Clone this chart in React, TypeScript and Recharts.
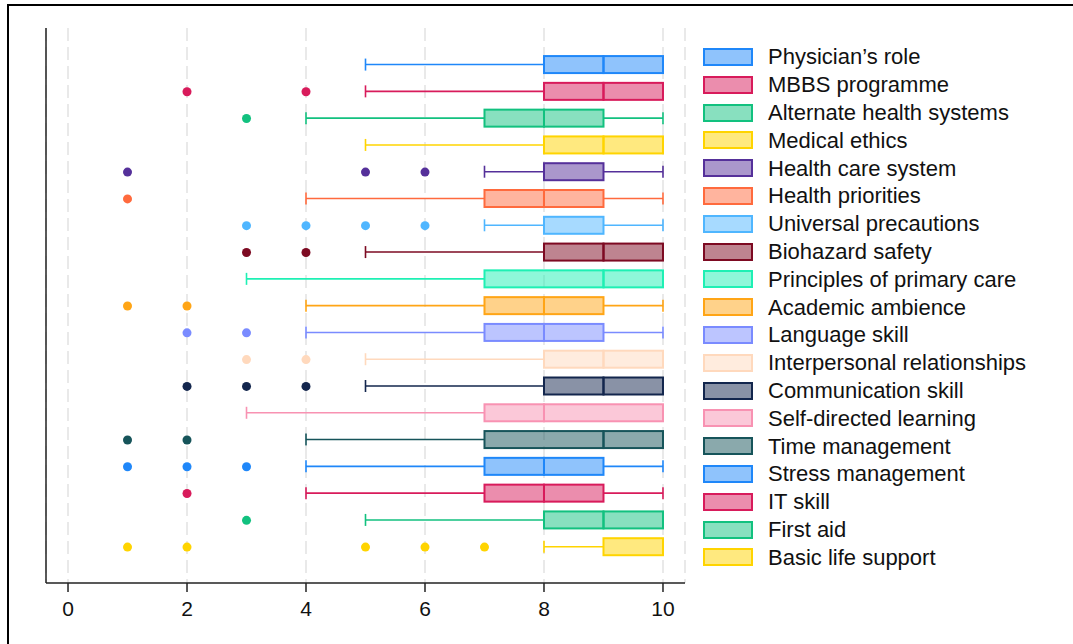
import React from 'react';
import { ComposedChart, Bar, Scatter, XAxis, YAxis, CartesianGrid, ReferenceLine } from 'recharts';

const categories = [
  'Physician’s role',
  'MBBS programme',
  'Alternate health systems',
  'Medical ethics',
  'Health care system',
  'Health priorities',
  'Universal precautions',
  'Biohazard safety',
  'Principles of primary care',
  'Academic ambience',
  'Language skill',
  'Interpersonal relationships',
  'Communication skill',
  'Self-directed learning',
  'Time management',
  'Stress management',
  'IT skill',
  'First aid',
  'Basic life support',
];

const whiskerLow = [5, 5, 4, 5, 7, 4, 7, 5, 3, 4, 4, 5, 5, 3, 4, 4, 4, 5, 8];
const q1 = [8, 8, 7, 8, 8, 7, 8, 8, 7, 7, 7, 8, 8, 7, 7, 7, 7, 8, 9];
const median = [9, 9, 8, 9, 8, 8, 8, 9, 9, 8, 8, 9, 9, 8, 9, 8, 8, 9, 9];
const q3 = [10, 10, 9, 10, 9, 9, 9, 10, 10, 9, 9, 10, 10, 10, 10, 9, 9, 10, 10];
const whiskerHigh = [10, 10, 10, 10, 10, 10, 10, 10, 10, 10, 10, 10, 10, 10, 10, 10, 10, 10, 10];
const outliers: number[][] = [
  [], [2, 4], [3], [], [1, 5, 6], [1], [3, 4, 5, 6], [3, 4], [], [1, 2],
  [2, 3], [3, 4], [2, 3, 4], [], [1, 2], [1, 2, 3], [2], [3], [1, 2, 5, 6, 7],
];
const xTicks = [0, 2, 4, 6, 8, 10];
const X_MIN = -0.37;
const X_MAX = 10.37;

const COLORS = [
  '#1f87f9', '#d81b5b', '#12c17f', '#ffd400', '#55309a', '#ff6a3d', '#4fb6ff',
  '#7d0a22', '#1ef0b4', '#ffa516', '#7a8bff', '#ffd9bd', '#13264d', '#f892b2',
  '#16545a', '#1f87f9', '#d81b5b', '#12c17f', '#ffd400',
];

const rows = categories.map((name, i) => ({
  idx: i,
  name,
  base: whiskerLow[i],
  w1: q1[i] - whiskerLow[i],
  b1: median[i] - q1[i],
  b2: q3[i] - median[i],
  w2: whiskerHigh[i] - q3[i],
}));

const outlierPoints = outliers.flatMap((vals, i) => vals.map((v) => ({ v, idx: i })));

const EmptyShape = () => <g />;

const BoxShape = (props: any) => {
  const { x, y, width, height, index } = props;
  const c = COLORS[index];
  return (
    <rect
      x={x}
      y={y + 0.5}
      width={Math.max(width || 0, 0)}
      height={height - 1}
      fill={c}
      fillOpacity={0.5}
      stroke={c}
      strokeWidth={2}
    />
  );
};

const makeWhisker = (capAtStart: boolean) => (props: any) => {
  const { x, y, width, height, index } = props;
  if (!width || width <= 0) return <g />;
  const c = COLORS[index];
  const cy = y + height / 2;
  const capX = capAtStart ? x : x + width;
  return (
    <g>
      <line x1={x} x2={x + width} y1={cy} y2={cy} stroke={c} strokeWidth={1.6} />
      <line x1={capX} x2={capX} y1={cy - 6} y2={cy + 6} stroke={c} strokeWidth={1.6} />
    </g>
  );
};

const WhiskerLow = makeWhisker(true);
const WhiskerHigh = makeWhisker(false);

const OutlierDot = (props: any) => {
  const { cx, cy, payload } = props;
  return <circle cx={cx} cy={cy} r={4.5} fill={COLORS[payload.idx]} />;
};

const FONT = '"Liberation Sans", Arial, Helvetica, sans-serif';

export default function App() {
  return (
    <div style={{ position: 'fixed', left: 0, top: 0, width: 1073, height: 644, overflow: 'hidden', background: '#fff', fontFamily: FONT }}>
      <div
        style={{
          position: 'absolute',
          left: 7,
          top: 4,
          width: 1066,
          height: 640,
          borderTop: '2px solid #000',
          borderLeft: '2px solid #000',
          boxSizing: 'border-box',
        }}
      />
      <div style={{ position: 'absolute', left: 0, top: 0 }}>
        <ComposedChart
          width={700}
          height={644}
          data={rows}
          layout="vertical"
          margin={{ top: 28, left: 46, right: 15, bottom: 31 }}
        >
          <CartesianGrid vertical horizontal={false} stroke="#e9e9e9" strokeWidth={2} strokeDasharray="13 6" />
          <XAxis
            type="number"
            domain={[X_MIN, X_MAX]}
            allowDataOverflow
            ticks={xTicks}
            height={30}
            tickSize={9}
            tickMargin={9}
            axisLine={{ stroke: '#222', strokeWidth: 1.5 }}
            tickLine={{ stroke: '#222', strokeWidth: 1.5 }}
            tick={{ fill: '#111', fontSize: 21, fontFamily: FONT }}
          />
          <YAxis
            type="number"
            dataKey="idx"
            domain={[-1.38, 19.34]}
            allowDataOverflow
            hide
            width={0}
          />
          <ReferenceLine x={X_MIN} stroke="#222" strokeWidth={1.5} ifOverflow="visible" />
          <Bar dataKey="base" stackId="s" barSize={18} shape={EmptyShape} isAnimationActive={false} />
          <Bar dataKey="w1" stackId="s" barSize={18} shape={WhiskerLow} isAnimationActive={false} />
          <Bar dataKey="b1" stackId="s" barSize={18} shape={BoxShape} isAnimationActive={false} />
          <Bar dataKey="b2" stackId="s" barSize={18} shape={BoxShape} isAnimationActive={false} />
          <Bar dataKey="w2" stackId="s" barSize={18} shape={WhiskerHigh} isAnimationActive={false} />
          <Scatter data={outlierPoints} dataKey="v" shape={OutlierDot} isAnimationActive={false} />
        </ComposedChart>
      </div>
      <div style={{ position: 'absolute', left: 703, top: 57 - 13.9 }}>
        {categories.map((name, i) => (
          <div key={name} style={{ height: 27.8, display: 'flex', alignItems: 'center' }}>
            <div
              style={{
                width: 50,
                height: 18,
                flexShrink: 0,
                boxSizing: 'border-box',
                border: `2px solid ${COLORS[i]}`,
                background: COLORS[i] + '80',
              }}
            />
            <span style={{ marginLeft: 15, fontSize: 22, color: '#111', whiteSpace: 'nowrap', lineHeight: '25px' }}>{name}</span>
          </div>
        ))}
      </div>
    </div>
  );
}
